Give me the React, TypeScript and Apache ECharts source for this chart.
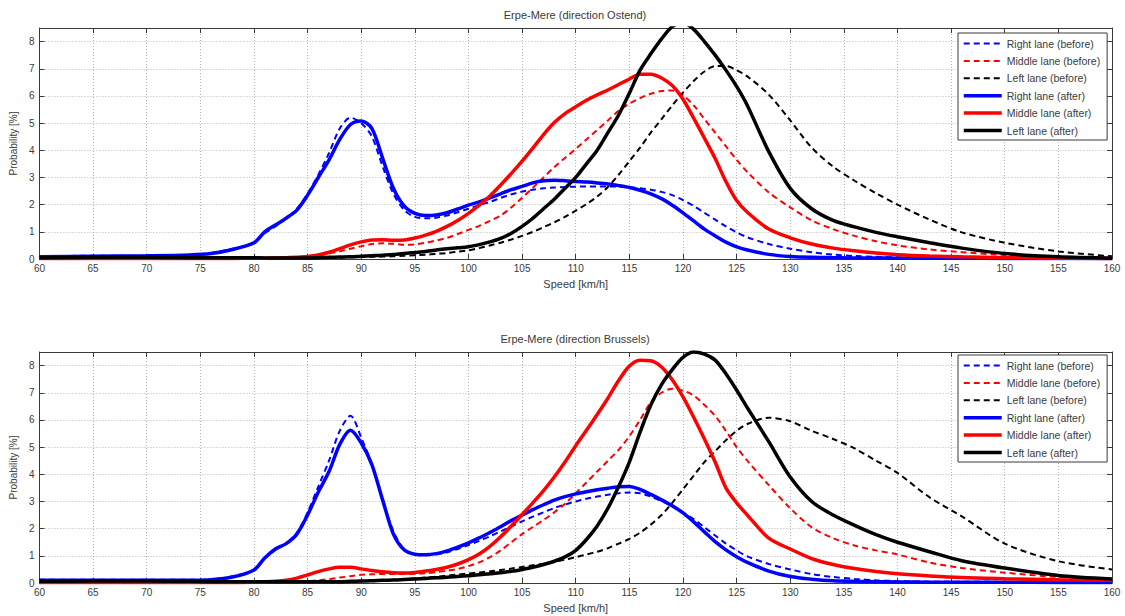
import React, { useEffect, useRef } from "react";
import * as echarts from "echarts";

// Shared speed grid [km/h]
const speeds = [
  60, 65, 70, 74, 76, 78, 80, 81, 82, 83,
  84, 85, 86, 87, 88, 89, 90, 91, 92, 93,
  94, 95, 96, 97, 98, 99, 100, 101, 102, 103,
  104, 105, 106, 107, 108, 109, 110, 111, 112, 113,
  114, 115, 116, 117, 118, 119, 120, 121, 122, 123,
  124, 125, 126, 128, 130, 132, 134, 136, 138, 140,
  143, 146, 150, 155, 160,
];

const seriesNames = [
  "Right lane (before)",
  "Middle lane (before)",
  "Left lane (before)",
  "Right lane (after)",
  "Middle lane (after)",
  "Left lane (after)",
];

const titles = ["Erpe-Mere (direction Ostend)", "Erpe-Mere (direction Brussels)"];
const xName = "Speed [km/h]";
const yName = "Probability [%]";

// ---- Ostend (top) ----
const ostendRightBefore = [
  0.1, 0.12, 0.12, 0.15, 0.22, 0.38, 0.6, 0.95, 1.2, 1.5,
  1.85, 2.4, 3.1, 3.9, 4.8, 5.2, 5.0, 4.5, 3.4, 2.4,
  1.8, 1.55, 1.5, 1.52, 1.6, 1.72, 1.85, 1.98, 2.1, 2.25,
  2.38, 2.48, 2.55, 2.6, 2.63, 2.65, 2.66, 2.67, 2.67, 2.67,
  2.66, 2.64, 2.6, 2.55, 2.47, 2.35, 2.17, 1.95, 1.7, 1.45,
  1.2, 0.98, 0.8, 0.55, 0.38, 0.25, 0.16, 0.11, 0.08, 0.06,
  0.05, 0.04, 0.04, 0.03, 0.03,
];
const ostendMiddleBefore = [
  0.02, 0.02, 0.02, 0.02, 0.02, 0.03, 0.03, 0.04, 0.05, 0.06,
  0.08, 0.1, 0.14, 0.2, 0.28, 0.38, 0.47, 0.55, 0.58, 0.56,
  0.52, 0.54, 0.6, 0.68, 0.78, 0.92, 1.07, 1.22, 1.4, 1.6,
  1.9, 2.25, 2.62, 3.0, 3.38, 3.72, 4.05, 4.4, 4.75, 5.1,
  5.45, 5.72, 5.92, 6.08, 6.18, 6.2, 6.02, 5.65, 5.15, 4.65,
  4.15, 3.65, 3.2, 2.45, 1.9, 1.42, 1.1, 0.85, 0.65, 0.5,
  0.35, 0.25, 0.15, 0.08, 0.04,
];
const ostendLeftBefore = [
  0.06, 0.07, 0.07, 0.06, 0.05, 0.05, 0.05, 0.04, 0.04, 0.04,
  0.04, 0.04, 0.05, 0.05, 0.05, 0.06, 0.07, 0.08, 0.09, 0.1,
  0.12, 0.14, 0.16, 0.19, 0.22, 0.27, 0.32, 0.4, 0.5, 0.6,
  0.72, 0.85, 1.0, 1.17, 1.35, 1.55, 1.78, 2.02, 2.3, 2.65,
  3.1, 3.6, 4.1, 4.65, 5.15, 5.65, 6.12, 6.55, 6.9, 7.1,
  7.1, 6.95, 6.72, 6.05, 5.1, 4.1, 3.4, 2.88, 2.42, 2.0,
  1.45, 0.98, 0.6, 0.28, 0.1,
];
const ostendRightAfter = [
  0.08, 0.1, 0.12, 0.15, 0.2, 0.35, 0.6, 1.0, 1.25, 1.5,
  1.8, 2.35, 3.0, 3.65, 4.4, 4.95, 5.08, 4.8, 3.7, 2.6,
  1.95, 1.68, 1.6, 1.62, 1.7, 1.84, 1.98, 2.1, 2.25, 2.4,
  2.55, 2.67, 2.8, 2.88, 2.9, 2.88, 2.85, 2.83, 2.8, 2.76,
  2.7, 2.63, 2.53, 2.4, 2.22, 1.98, 1.7, 1.4, 1.1, 0.85,
  0.62, 0.45, 0.33, 0.17, 0.09, 0.06, 0.05, 0.04, 0.04, 0.03,
  0.03, 0.03, 0.02, 0.02, 0.02,
];
const ostendMiddleAfter = [
  0.02, 0.02, 0.02, 0.02, 0.02, 0.02, 0.03, 0.03, 0.04, 0.05,
  0.06, 0.09, 0.15, 0.25, 0.38, 0.52, 0.63, 0.7, 0.71, 0.69,
  0.7, 0.77, 0.88, 1.02, 1.2, 1.42, 1.68, 1.98, 2.32, 2.72,
  3.15, 3.6, 4.08, 4.58, 5.02, 5.35, 5.6, 5.84, 6.04, 6.22,
  6.42, 6.62, 6.8, 6.8, 6.66, 6.38, 5.88, 5.18, 4.45, 3.7,
  2.85, 2.15, 1.72, 1.1, 0.78, 0.55, 0.4, 0.3, 0.22, 0.16,
  0.11, 0.08, 0.05, 0.03, 0.02,
];
const ostendLeftAfter = [
  0.05, 0.06, 0.06, 0.05, 0.05, 0.05, 0.05, 0.04, 0.04, 0.04,
  0.04, 0.04, 0.05, 0.06, 0.07, 0.08, 0.1, 0.12, 0.14, 0.17,
  0.2, 0.24, 0.28, 0.33, 0.38, 0.41, 0.45, 0.53, 0.63, 0.76,
  0.95, 1.2, 1.5, 1.85, 2.2, 2.6, 3.0, 3.5, 4.0, 4.65,
  5.3, 6.1, 6.95, 7.55, 8.1, 8.55, 8.7, 8.45, 8.0, 7.5,
  6.95, 6.35, 5.65, 3.95, 2.6, 1.85, 1.42, 1.18, 0.98, 0.82,
  0.6, 0.4, 0.2, 0.08, 0.03,
];

// ---- Brussels (bottom) ----
const brusselsRightBefore = [
  0.12, 0.12, 0.12, 0.12, 0.13, 0.25, 0.48, 0.9, 1.22, 1.45,
  1.85, 2.6, 3.55, 4.5, 5.6, 6.15, 5.35, 4.35, 3.05, 1.9,
  1.25, 1.05, 1.02, 1.05, 1.13, 1.25, 1.4, 1.55, 1.72, 1.9,
  2.08, 2.27, 2.44, 2.6, 2.76, 2.89, 3.0, 3.1, 3.18, 3.25,
  3.3, 3.33, 3.3, 3.18, 3.02, 2.82, 2.6, 2.35, 2.05, 1.75,
  1.45, 1.2, 0.98, 0.7, 0.5, 0.33, 0.22, 0.15, 0.1, 0.07,
  0.05, 0.05, 0.04, 0.04, 0.03,
];
const brusselsMiddleBefore = [
  0.02, 0.02, 0.02, 0.02, 0.02, 0.02, 0.03, 0.03, 0.04, 0.04,
  0.05, 0.07, 0.1, 0.14, 0.2, 0.25, 0.3, 0.32, 0.33, 0.33,
  0.33, 0.34, 0.36, 0.4, 0.45, 0.52, 0.62, 0.76, 0.95, 1.2,
  1.5, 1.8, 2.06, 2.32, 2.6, 2.92, 3.3, 3.7, 4.1, 4.5,
  4.9, 5.4, 6.0, 6.65, 7.0, 7.15, 7.08, 6.9, 6.55, 6.15,
  5.6, 5.0, 4.5, 3.6, 2.75, 2.05, 1.65, 1.38, 1.2, 1.05,
  0.75, 0.55, 0.38, 0.22, 0.14,
];
const brusselsLeftBefore = [
  0.1, 0.1, 0.1, 0.09, 0.08, 0.07, 0.07, 0.06, 0.06, 0.06,
  0.06, 0.06, 0.06, 0.06, 0.07, 0.07, 0.08, 0.09, 0.1, 0.12,
  0.14, 0.17, 0.2, 0.23, 0.27, 0.31, 0.35, 0.39, 0.43, 0.48,
  0.53, 0.59, 0.65, 0.71, 0.78, 0.86, 0.95, 1.05, 1.15, 1.28,
  1.45, 1.62, 1.85, 2.15, 2.5, 2.95, 3.45, 3.95, 4.45, 4.85,
  5.25, 5.6, 5.85, 6.08, 5.95, 5.6, 5.3, 4.95, 4.5, 4.05,
  3.15, 2.45, 1.45, 0.8, 0.5,
];
const brusselsRightAfter = [
  0.1, 0.1, 0.1, 0.1, 0.12, 0.22, 0.48, 0.92, 1.25, 1.45,
  1.8, 2.5, 3.35, 4.1, 5.1, 5.62, 5.15, 4.35, 3.05, 1.8,
  1.22, 1.06, 1.04, 1.08, 1.18, 1.32, 1.48, 1.66, 1.86, 2.07,
  2.3, 2.5, 2.7, 2.88, 3.05, 3.18, 3.28, 3.36, 3.43, 3.49,
  3.54, 3.55, 3.44, 3.26, 3.06, 2.84, 2.58, 2.25, 1.88, 1.52,
  1.22, 0.97, 0.76, 0.44, 0.24, 0.14, 0.08, 0.06, 0.05, 0.04,
  0.03, 0.03, 0.03, 0.02, 0.02,
];
const brusselsMiddleAfter = [
  0.02, 0.02, 0.02, 0.02, 0.02, 0.02, 0.03, 0.04, 0.06, 0.1,
  0.18, 0.3, 0.42, 0.52, 0.58, 0.58, 0.52, 0.46, 0.41, 0.38,
  0.37, 0.39, 0.44, 0.5, 0.58, 0.7, 0.86, 1.07, 1.35, 1.7,
  2.1, 2.52, 2.95, 3.4, 3.9, 4.45, 5.05, 5.62, 6.2, 6.8,
  7.45, 7.98, 8.2, 8.18, 7.95, 7.48, 6.85, 6.1, 5.3, 4.45,
  3.5, 2.95, 2.5, 1.65, 1.25, 0.9, 0.68, 0.53, 0.42, 0.34,
  0.26, 0.2, 0.16, 0.12, 0.1,
];
const brusselsLeftAfter = [
  0.06, 0.07, 0.07, 0.06, 0.05, 0.05, 0.05, 0.05, 0.05, 0.05,
  0.05, 0.05, 0.05, 0.05, 0.05, 0.06, 0.07, 0.08, 0.1, 0.11,
  0.13, 0.15, 0.17, 0.19, 0.21, 0.24, 0.27, 0.3, 0.34, 0.38,
  0.43, 0.5, 0.58, 0.68, 0.8, 0.96, 1.2, 1.6, 2.1, 2.75,
  3.55, 4.45, 5.55, 6.55, 7.3, 7.85, 8.3, 8.5, 8.42, 8.2,
  7.7, 7.1, 6.45, 5.2, 3.9, 3.0, 2.5, 2.12, 1.78, 1.5,
  1.15, 0.82, 0.55, 0.28, 0.15,
];

const colors = ["#0000ff", "#ff0000", "#000000", "#0000ff", "#ff0000", "#000000"];
const dashedFlags = [true, true, true, false, false, false];

const ostendSeries = [ostendRightBefore, ostendMiddleBefore, ostendLeftBefore, ostendRightAfter, ostendMiddleAfter, ostendLeftAfter];
const brusselsSeries = [brusselsRightBefore, brusselsMiddleBefore, brusselsLeftBefore, brusselsRightAfter, brusselsMiddleAfter, brusselsLeftAfter];

const FONT = "Liberation Sans, Arial, Helvetica, sans-serif";
const TEXT = "#3a3a3a";
const AXIS = "#3a3a3a";

const GRID_LEFT = 38;
const GRID_WIDTH = 1074;
const GRID_HEIGHT = 231;
const GRID_TOPS = [28, 352];

export default function App() {
  const ref = useRef<HTMLDivElement>(null);

  useEffect(() => {
    if (!ref.current) return;
    const chart = echarts.init(ref.current, null, { renderer: "svg" });

    const xAxes: any[] = [];
    const yAxes: any[] = [];
    const series: any[] = [];
    const legends: any[] = [];
    const graphics: any[] = [];

    GRID_TOPS.forEach((top, g) => {
      xAxes.push({
        type: "value",
        gridIndex: g,
        position: "bottom",
        min: 60,
        max: 160,
        interval: 5,
        name: xName,
        nameLocation: "middle",
        nameGap: 19,
        nameTextStyle: { fontFamily: FONT, fontSize: 11, color: TEXT },
        axisLine: { show: true, onZero: false, lineStyle: { color: AXIS, width: 1 } },
        axisTick: { show: true, inside: true, length: 5, lineStyle: { color: AXIS } },
        axisLabel: { fontFamily: FONT, fontSize: 10, color: TEXT, margin: 4 },
        splitLine: { show: true, lineStyle: { type: [1, 2], color: "#b5b5b5", width: 1 } },
      });
      xAxes.push({
        type: "value",
        gridIndex: g,
        position: "top",
        min: 60,
        max: 160,
        interval: 5,
        axisLine: { show: true, onZero: false, lineStyle: { color: AXIS, width: 1 } },
        axisTick: { show: true, inside: true, length: 5, lineStyle: { color: AXIS } },
        axisLabel: { show: false },
        splitLine: { show: false },
      });
      yAxes.push({
        type: "value",
        gridIndex: g,
        position: "left",
        min: 0,
        max: 8.5,
        interval: 1,
        name: yName,
        nameLocation: "middle",
        nameGap: 19,
        nameTextStyle: { fontFamily: FONT, fontSize: 10, color: TEXT },
        axisLine: { show: true, onZero: false, lineStyle: { color: AXIS, width: 1 } },
        axisTick: { show: true, inside: true, length: 5, lineStyle: { color: AXIS } },
        axisLabel: { fontFamily: FONT, fontSize: 10, color: TEXT, margin: 5, showMaxLabel: false },
        splitLine: { show: true, lineStyle: { type: [1, 2], color: "#b5b5b5", width: 1 } },
      });
      yAxes.push({
        type: "value",
        gridIndex: g,
        position: "right",
        min: 0,
        max: 8.5,
        interval: 1,
        axisLine: { show: true, onZero: false, lineStyle: { color: AXIS, width: 1 } },
        axisTick: { show: true, inside: true, length: 5, lineStyle: { color: AXIS } },
        axisLabel: { show: false },
        splitLine: { show: false },
      });

      const sets = g === 0 ? ostendSeries : brusselsSeries;
      sets.forEach((vals, i) => {
        series.push({
          type: "line",
          name: seriesNames[i],
          xAxisIndex: g * 2,
          yAxisIndex: g * 2,
          data: speeds.map((s, k) => [s, vals[k]]),
          symbol: "none",
          showSymbol: false,
          smooth: 0.3,
          clip: true,
          silent: true,
          emphasis: { disabled: true },
          itemStyle: { color: colors[i] },
          lineStyle: {
            color: colors[i],
            width: dashedFlags[i] ? 2 : 3.5,
            type: dashedFlags[i] ? [6, 4] : "solid",
          },
          z: 2 + i,
        });
      });

      legends.push({
        orient: "vertical",
        left: 958,
        top: top + (g === 0 ? 5 : 3),
        padding: [5, 7, 4, 4],
        itemWidth: 38,
        itemHeight: 10,
        itemGap: 6.4,
        borderColor: AXIS,
        borderWidth: 1,
        borderRadius: 0,
        backgroundColor: "#ffffff",
        selectedMode: false,
        textStyle: { fontFamily: FONT, fontSize: 10.5, color: TEXT },
        data: seriesNames.map((n, i) => ({
          name: n,
          itemStyle: { color: "rgba(0,0,0,0)", borderWidth: 0, opacity: 0 },
          lineStyle: {
            color: colors[i],
            width: dashedFlags[i] ? 2 : 3.5,
            type: dashedFlags[i] ? [6, 4] : "solid",
            opacity: 1,
          },
        })),
        z: 20,
      });

      graphics.push({
        type: "text",
        x: GRID_LEFT + GRID_WIDTH / 2,
        y: top - 13,
        style: {
          text: titles[g],
          fontFamily: FONT,
          fontSize: 11,
          fill: TEXT,
          textAlign: "center",
          textVerticalAlign: "middle",
        },
      });
    });

    chart.setOption({
      animation: false,
      backgroundColor: "#ffffff",
      grid: GRID_TOPS.map((top) => ({
        left: GRID_LEFT,
        top,
        width: GRID_WIDTH,
        height: GRID_HEIGHT,
        containLabel: false,
      })),
      xAxis: xAxes,
      yAxis: yAxes,
      legend: legends,
      series,
      graphic: graphics,
    });

    return () => chart.dispose();
  }, []);

  return (
    <div
      ref={ref}
      style={{ position: "absolute", left: 0, top: 0, width: 1125, height: 616, background: "#fff" }}
    />
  );
}
